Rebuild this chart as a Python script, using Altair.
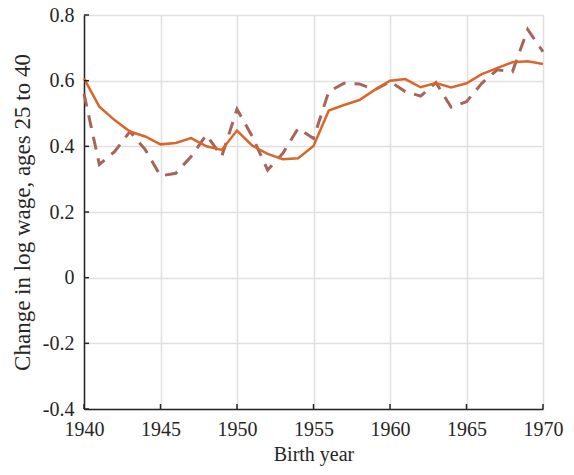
import altair as alt
import pandas as pd

years = list(range(1940, 1971))
solid = [0.607, 0.521, 0.48, 0.445, 0.43, 0.406, 0.41, 0.425, 0.40, 0.389,
         0.448, 0.402, 0.377, 0.361, 0.364, 0.401, 0.509, 0.526, 0.541, 0.572,
         0.600, 0.605, 0.580, 0.593, 0.579, 0.592, 0.620, 0.638, 0.656, 0.659, 0.651]
dashed = [0.56, 0.345, 0.384, 0.445, 0.39, 0.31, 0.318, 0.369, 0.435, 0.369,
          0.513, 0.43, 0.328, 0.379, 0.455, 0.424, 0.567, 0.592, 0.59, 0.572,
          0.597, 0.567, 0.553, 0.594, 0.519, 0.536, 0.592, 0.633, 0.627, 0.756, 0.688]
y_ticks = [-0.4, -0.2, 0, 0.2, 0.4, 0.6, 0.8]
x_ticks = [1940, 1945, 1950, 1955, 1960, 1965, 1970]

df = pd.DataFrame({"year": years, "solid": solid, "dashed": dashed})
yt = pd.DataFrame({"v": y_ticks})
xt = pd.DataFrame({"v": x_ticks})

W, H = 459, 394
font = "Liberation Serif"
dark = "#262626"

xscale = alt.Scale(domain=[1940, 1970], nice=False, zero=False)
yscale = alt.Scale(domain=[-0.4, 0.8], nice=False, zero=False)

xaxis = alt.Axis(values=x_ticks, format="d", title="Birth year", ticks=False,
                 labelFlush=False, labelOverlap=False,
                 grid=True, gridColor="#e0e0e0", gridWidth=1.5,
                 domainColor=dark, domainWidth=1.5, labelColor=dark,
                 labelFontSize=20, labelFont=font, labelPadding=10,
                 titleFont=font, titleFontSize=20, titleFontWeight="normal",
                 titleColor=dark, titlePadding=5)
yaxis = alt.Axis(values=y_ticks, title="Change in log wage, ages 25 to 40", ticks=False,
                 labelFlush=False, labelOverlap=False,
                 labelExpr="datum.value == 0 ? '0' : replace(format(datum.value, '.1f'), '\u2212', '-')",
                 grid=True, gridColor="#e0e0e0", gridWidth=1.5,
                 domainColor=dark, domainWidth=1.5, labelColor=dark,
                 labelFontSize=20, labelFont=font, labelPadding=10,
                 titleFont=font, titleFontSize=23, titleFontWeight="normal",
                 titleColor=dark, titlePadding=8)

base = alt.Chart(df)

dash_line = base.mark_line(color="#A8645A", strokeWidth=3, strokeDash=[13, 9]).encode(
    x=alt.X("year:Q", scale=xscale, axis=xaxis),
    y=alt.Y("dashed:Q", scale=yscale, axis=yaxis),
)
solid_line = base.mark_line(color="#D9662B", strokeWidth=2.5).encode(
    x=alt.X("year:Q", scale=xscale),
    y=alt.Y("solid:Q", scale=yscale),
)

ytick = alt.Chart(yt).mark_rule(color=dark, strokeWidth=1.5).encode(
    y=alt.Y("v:Q", scale=yscale), x=alt.value(0), x2=alt.value(5))
xtick = alt.Chart(xt).mark_rule(color=dark, strokeWidth=1.5).encode(
    x=alt.X("v:Q", scale=xscale), y=alt.value(H), y2=alt.value(H - 5))

chart = alt.layer(dash_line, solid_line, ytick, xtick).properties(
    width=W, height=H,
    autosize=alt.AutoSizeParams(type="none"),
    padding={"left": 76, "top": 7, "right": 23, "bottom": 58},
).configure_view(stroke=None).configure(background="white")

chart.save("out.html", embed_options={"renderer": "svg", "actions": False})
